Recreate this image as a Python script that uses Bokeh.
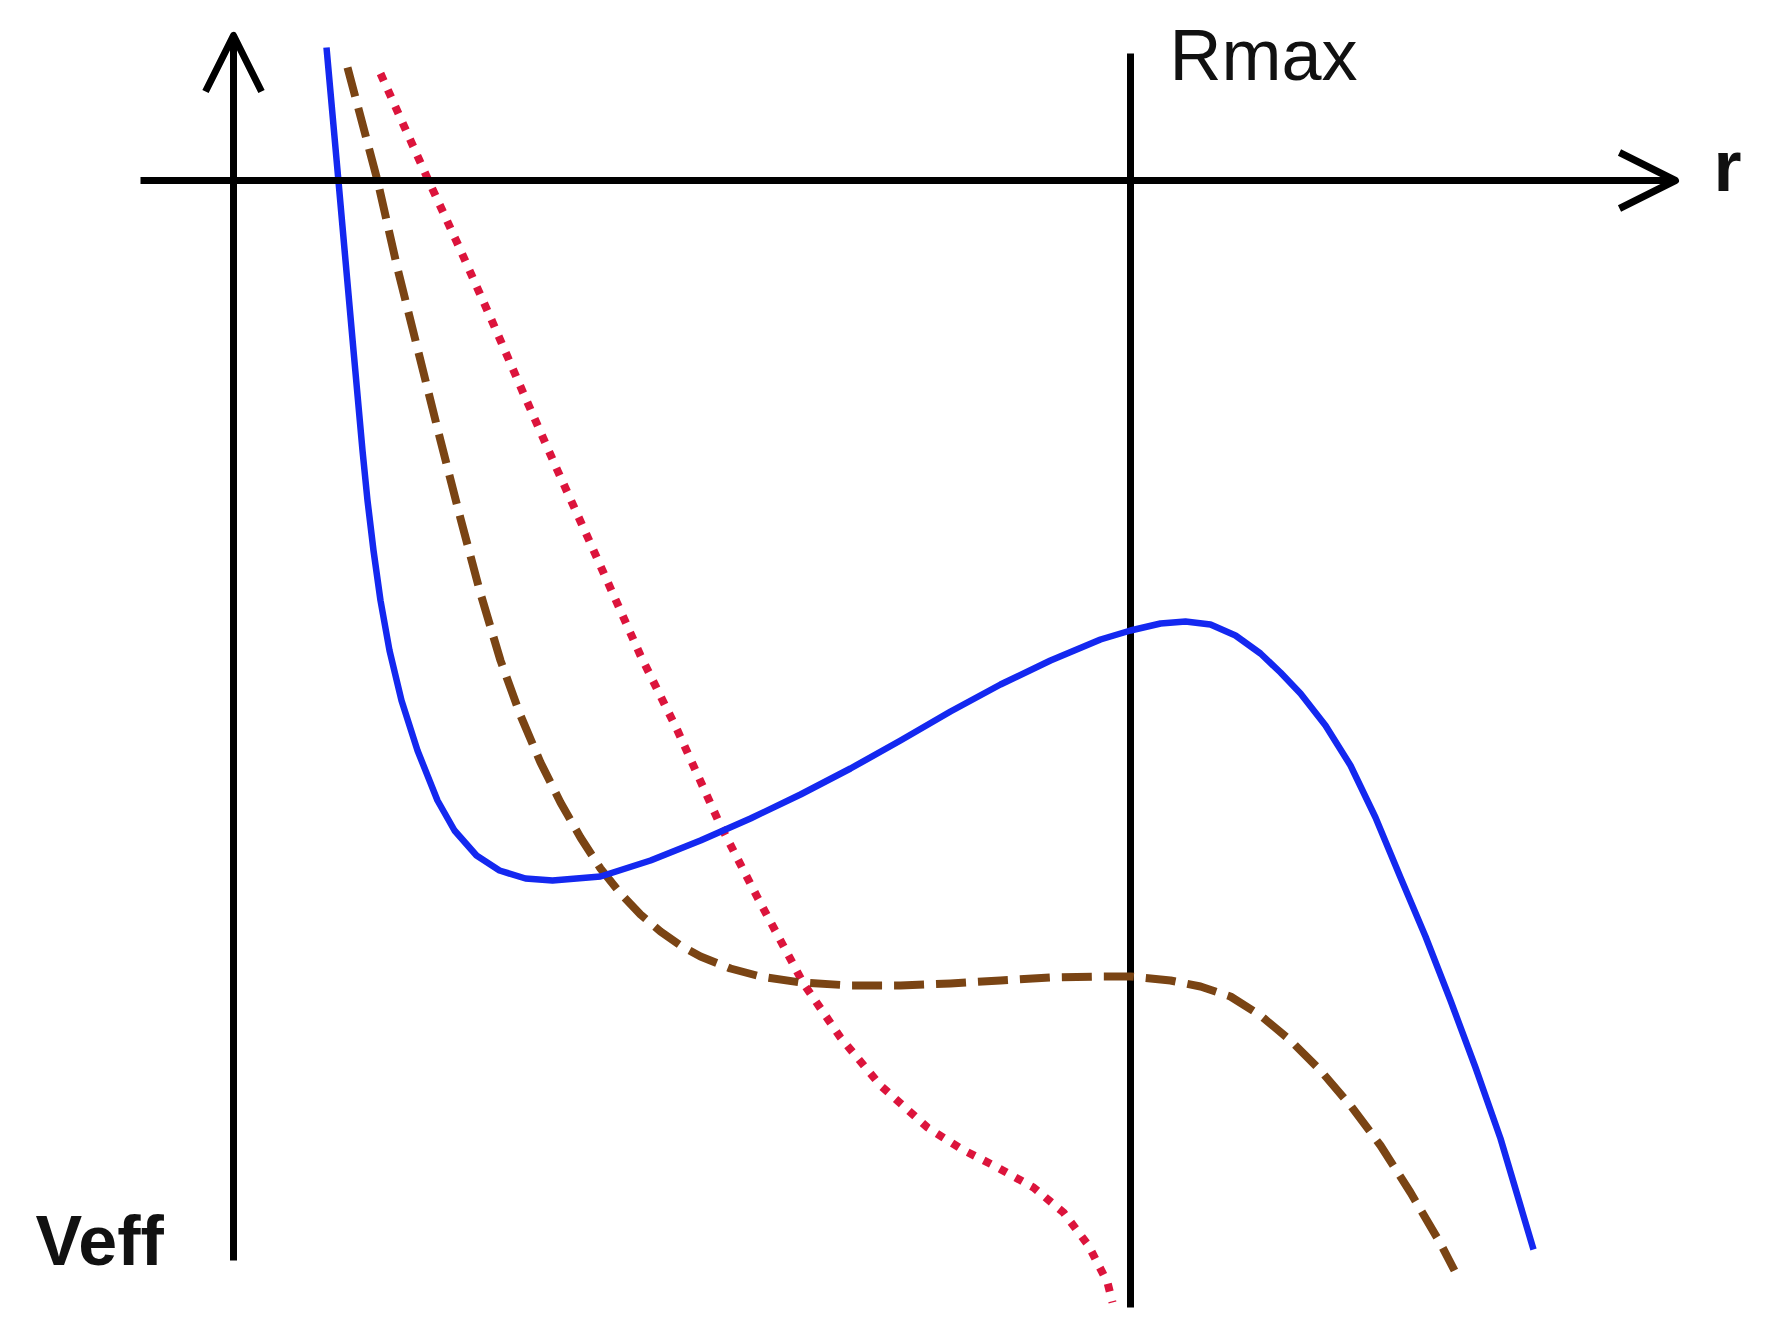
from bokeh.plotting import figure
from bokeh.models import Range1d, Arrow, OpenHead
from bokeh.core.properties import value
from bokeh.embed import file_html
from bokeh.resources import INLINE

# ---- data (schematic effective potential curves) ----
r_blue = [0.93, 1.05, 1.12, 1.20, 1.29, 1.34, 1.40, 1.47, 1.56, 1.68, 1.84, 2.04, 2.21, 2.43, 2.66,
          2.92, 3.19, 3.67, 4.17, 4.67, 5.17, 5.67, 6.17, 6.67, 7.17, 7.67, 8.17, 8.67, 8.97, 9.27,
          9.52, 9.77, 10.02, 10.27, 10.47, 10.67, 10.92, 11.17, 11.42, 11.67, 11.92, 12.17, 12.42,
          12.67, 13.00]
v_blue = [1.33, -0.01, -0.80, -1.70, -2.70, -3.20, -3.70, -4.20, -4.70, -5.20, -5.70, -6.20, -6.50,
          -6.75, -6.90, -6.98, -7.00, -6.96, -6.80, -6.60, -6.38, -6.14, -5.88, -5.60, -5.31, -5.04,
          -4.80, -4.59, -4.50, -4.43, -4.41, -4.44, -4.55, -4.73, -4.92, -5.13, -5.45, -5.85, -6.37,
          -6.97, -7.56, -8.20, -8.87, -9.58, -10.69]

r_brown = [1.14, 1.44, 1.64, 1.87, 2.07, 2.27, 2.47, 2.67, 2.87, 3.07, 3.27, 3.47, 3.67, 3.87, 4.07,
           4.27, 4.47, 4.67, 4.97, 5.27, 5.67, 6.17, 6.67, 7.17, 7.67, 8.17, 8.67, 8.97, 9.37, 9.67,
           9.97, 10.27, 10.57, 10.87, 11.17, 11.47, 11.77, 12.07, 12.21]
v_brown = [1.13, 0.00, -0.88, -1.80, -2.60, -3.38, -4.13, -4.80, -5.35, -5.82, -6.22, -6.57, -6.88,
           -7.13, -7.34, -7.51, -7.65, -7.76, -7.88, -7.96, -8.02, -8.05, -8.05, -8.03, -8.00, -7.97,
           -7.96, -7.96, -8.00, -8.06, -8.16, -8.35, -8.60, -8.90, -9.25, -9.65, -10.12, -10.63,
           -10.90]

r_red = [1.47, 1.95, 2.24, 2.57, 2.90, 3.24, 3.57, 4.07, 4.44, 4.87, 5.24, 5.70, 6.07, 6.47, 6.94,
         7.27, 7.64, 8.00, 8.30, 8.55, 8.74, 8.79]
v_red = [1.07, 0.00, -0.63, -1.37, -2.13, -2.90, -3.63, -4.75, -5.50, -6.45, -7.17, -8.03, -8.57,
         -9.05, -9.47, -9.68, -9.87, -10.07, -10.32, -10.65, -11.02, -11.22]

r_max = 8.97
r_axis_extent = [-0.93, 14.42]
v_axis_extent = [-10.80, 1.45]
rmax_line_extent = [-11.27, 1.27]

FONT = "Liberation Sans"

p = figure(width=1765, height=1315, output_backend="svg", toolbar_location=None,
           x_range=Range1d(-2.33, 15.32), y_range=Range1d(-11.35, 1.80),
           min_border=0, min_border_left=0, min_border_right=0,
           min_border_top=0, min_border_bottom=0)
p.axis.visible = False
p.grid.visible = False
p.outline_line_color = None
p.background_fill_color = "white"
p.border_fill_color = "white"

# axes with arrows
p.add_layout(Arrow(end=OpenHead(size=56, line_width=7, line_color="black", line_join="round"),
                   x_start=r_axis_extent[0], y_start=0, x_end=r_axis_extent[1], y_end=0,
                   line_width=7, line_color="black"))
p.add_layout(Arrow(end=OpenHead(size=56, line_width=7, line_color="black", line_join="round"),
                   x_start=0, y_start=v_axis_extent[0], x_end=0, y_end=v_axis_extent[1],
                   line_width=7, line_color="black"))

# Rmax vertical line
p.line([r_max, r_max], rmax_line_extent, line_width=7, line_color="black")

# curves
p.line(r_red, v_red, line_color="#DC143C", line_width=8, line_dash="8 10", line_cap="butt",
       line_join="round")
p.line(r_brown, v_brown, line_color="#7A4414", line_width=8, line_dash="30 12", line_cap="butt",
       line_join="round")
p.line(r_blue, v_blue, line_color="#1428F0", line_width=6.5, line_join="round")

# labels
p.text(x=[r_max + 0.39], y=[1.26], text=["Rmax"], text_font=value(FONT),
       text_font_size=value("72px"), text_color="#111111",
       text_align="left", text_baseline="alphabetic")
p.text(x=[14.80], y=[0.15], text=["r"], text_font=value(FONT),
       text_font_size=value("72px"), text_font_style="bold", text_color="#111111",
       text_align="left", text_baseline="alphabetic")
p.text(x=[-1.98], y=[-10.60], text=["Veff"], text_font=value(FONT),
       text_font_size=value("70px"), text_font_style="bold", text_color="#111111",
       text_align="left", text_baseline="alphabetic")

open("out.html", "w").write(file_html(p, INLINE))
